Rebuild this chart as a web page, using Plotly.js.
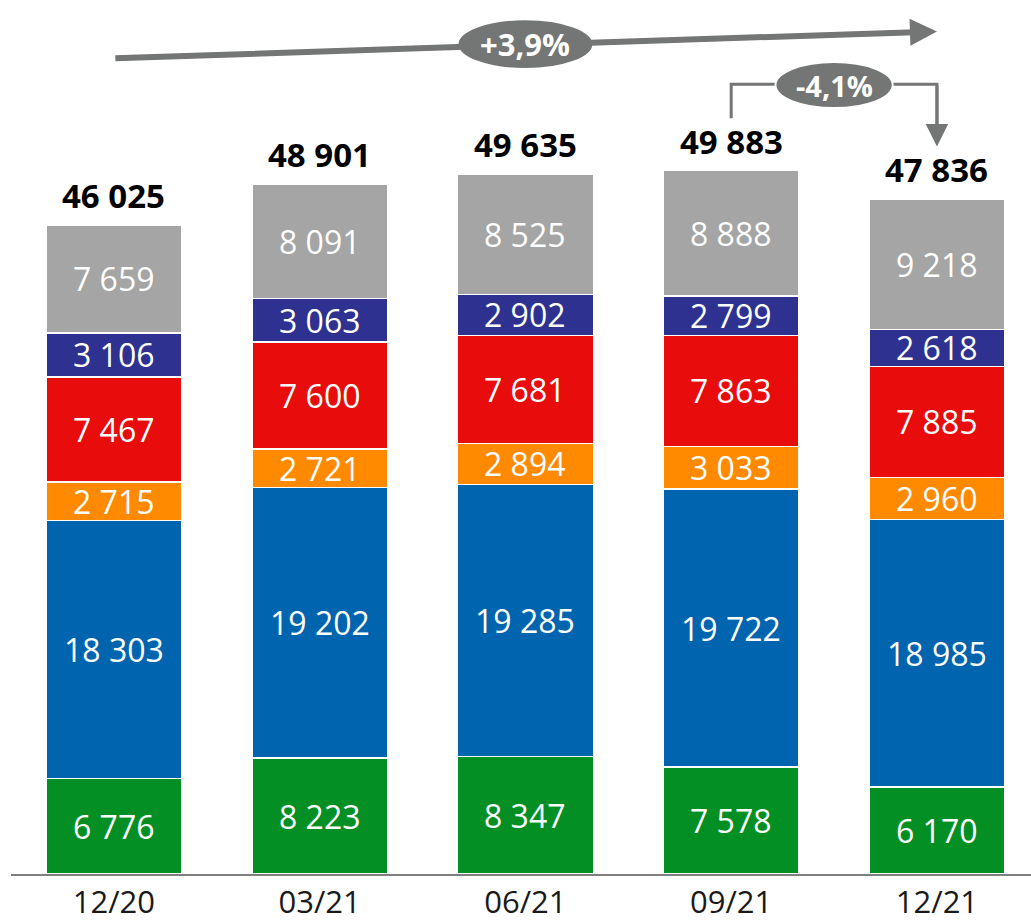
<!DOCTYPE html>
<html><head><meta charset="utf-8">
<script src="https://cdn.plot.ly/plotly-3.0.1.min.js"></script>
<style>html,body{margin:0;padding:0;background:#fff;}#chart{width:1031px;height:921px;}</style>
</head><body><div id="chart"></div>
<script>
const categories = ['12/20','03/21','06/21','09/21','12/21'];
const seriesGreen  = [6776, 8223, 8347, 7578, 6170];
const seriesBlue   = [18303, 19202, 19285, 19722, 18985];
const seriesOrange = [2715, 2721, 2894, 3033, 2960];
const seriesRed    = [7467, 7600, 7681, 7863, 7885];
const seriesNavy   = [3106, 3063, 2902, 2799, 2618];
const seriesGray   = [7659, 8091, 8525, 8888, 9218];
const totals       = [46025, 48901, 49635, 49883, 47836];
const growthLabel = '+3,9%';
const changeLabel = '-4,1%';

const series = [
  {v: seriesGreen,  c: '#038F23'},
  {v: seriesBlue,   c: '#0064AF'},
  {v: seriesOrange, c: '#FF8A00'},
  {v: seriesRed,    c: '#E80C0C'},
  {v: seriesNavy,   c: '#2E3190'},
  {v: seriesGray,   c: '#A4A5A4'}
];
const fmt = n => String(n).replace(/\B(?=(\d{3})+(?!\d))/g, ' ');
const FONT = 'Open Sans, sans-serif';
const xIdx = categories.map((_, i) => i);

const traces = series.map(s => ({
  type: 'bar', x: xIdx, y: s.v, width: 0.66,
  marker: {color: s.c, line: {color: '#ffffff', width: 1.5}},
  hoverinfo: 'skip', showlegend: false
}));

const annotations = [];
const cum = categories.map(() => 0);
series.forEach(s => {
  s.v.forEach((v, i) => {
    annotations.push({x: i, y: cum[i] + v / 2, xref: 'x', yref: 'y', text: fmt(v),
      showarrow: false, font: {family: FONT, size: 32, color: '#ffffff'}});
    cum[i] += v;
  });
});
totals.forEach((t, i) => {
  annotations.push({x: i, y: t, xref: 'x', yref: 'y', text: '<b>' + fmt(t) + '</b>',
    yanchor: 'bottom', yshift: 5, showarrow: false, font: {family: FONT, size: 33, color: '#000000'}});
});

const ARROW = '#737675';
annotations.push({x: 4, y: 59750, ax: 0, ay: 57850, xref: 'x', yref: 'y', axref: 'x', ayref: 'y',
  showarrow: true, arrowhead: 2, arrowsize: 0.9, arrowwidth: 6, arrowcolor: ARROW, text: ''});
annotations.push({x: 4, y: 51600, ax: 4, ay: 56000, xref: 'x', yref: 'y', axref: 'x', ayref: 'y',
  showarrow: true, arrowhead: 2, arrowsize: 1.5, arrowwidth: 3, arrowcolor: ARROW, text: ''});
annotations.push({x: 2, y: 58850, xref: 'x', yref: 'y', text: '<b>' + growthLabel + '</b>', showarrow: false,
  font: {family: FONT, size: 31, color: '#ffffff'}});
annotations.push({x: 3.5, y: 55950, xref: 'x', yref: 'y', text: '<b>' + changeLabel + '</b>', showarrow: false,
  font: {family: FONT, size: 29, color: '#ffffff'}});

const shapes = [
  {type: 'path', xref: 'x', yref: 'y', path: 'M 3 53600 L 3 56000 L 4 56000 L 4 53000',
    line: {color: ARROW, width: 3}},
  {type: 'circle', xref: 'x', yref: 'y', x0: 1.67, x1: 2.33, y0: 57080, y1: 60620,
    fillcolor: ARROW, line: {color: '#ffffff', width: 2}},
  {type: 'circle', xref: 'x', yref: 'y', x0: 3.215, x1: 3.785, y0: 54320, y1: 57580,
    fillcolor: ARROW, line: {color: '#ffffff', width: 2}}
];

const layout = {
  width: 1031, height: 921, barmode: 'stack', bargap: 0.34,
  margin: {l: 11, r: 0, t: 0, b: 47},
  paper_bgcolor: '#ffffff', plot_bgcolor: '#ffffff',
  xaxis: {range: [-0.5, 4.457], tickmode: 'array', tickvals: xIdx, ticktext: categories,
    showline: true, linecolor: '#7F7F7F', linewidth: 2, ticks: '', showgrid: false, zeroline: false,
    tickfont: {family: FONT, size: 31, color: '#1a1a1a'}, fixedrange: true},
  yaxis: {range: [0, 61982], visible: false, showgrid: false, zeroline: false, fixedrange: true},
  annotations: annotations, shapes: shapes
};
Plotly.newPlot('chart', traces, layout, {displayModeBar: false, staticPlot: true});
</script></body></html>
